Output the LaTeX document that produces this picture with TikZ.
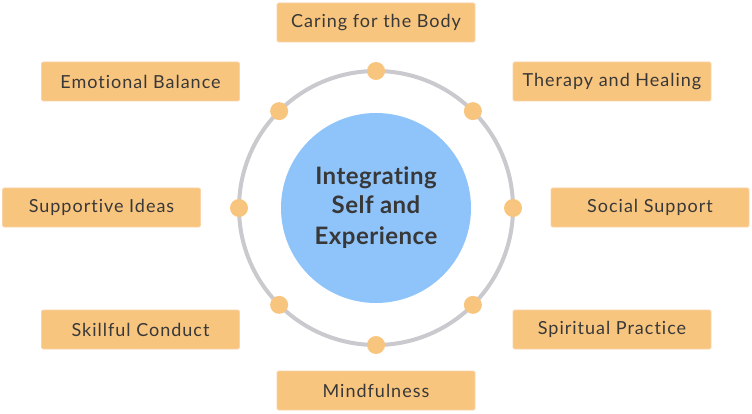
\documentclass[tikz,border=0pt]{standalone}
\usepackage{fontspec}
\setmainfont{Lato}
\newfontfamily\topicfont{Lato}[LetterSpace=5.5, Ligatures=NoCommon]
\newfontfamily\hubfont{Lato}[LetterSpace=2, Ligatures=NoCommon]
\usetikzlibrary{positioning}

\definecolor{boxorange}{HTML}{F8C57F}
\definecolor{boxedge}{HTML}{FAD3A6}
\definecolor{hubblue}{HTML}{8FC4FA}
\definecolor{ringgray}{HTML}{C9C9CE}
\definecolor{textgray}{HTML}{383838}

\begin{document}
\begin{tikzpicture}[x=1pt, y=-1pt, font=\topicfont\fontsize{18}{20}\selectfont, text=textgray,
  topic/.style={draw=boxedge, fill=boxorange, line width=0.8pt, rounded corners=1.5pt,
    minimum width=198pt, minimum height=39pt, inner sep=0pt},
  hub/.style={circle, fill=hubblue, minimum size=190pt, align=center,
    font=\hubfont\fontsize{24}{31}\selectfont\bfseries},
  ring/.style={draw=ringgray, line width=4pt},
  dot/.style={circle, fill=boxorange, minimum size=18pt, inner sep=0pt}]
  \useasboundingbox (0,0) rectangle (752,414);

  % ring and hub
  \draw[ring] (376,208) circle (137);
  \node[hub] (hub) at (376,208) {\raisebox{-2pt}{Integrating}\\Self and\\Experience};
  \foreach \a in {0,45,...,315}
    \node[dot] (dot\a) at ([shift={(\a:137)}]hub.center) {};

  % topics
  \node[topic] (body)    at (376,22.5)   {Caring for the Body};
  \node[topic] (balance) at (140.5,81.5) {Emotional Balance};
  \node[topic] (therapy) at (612,81.5)   {Therapy and Healing};
  \node[topic] (ideas)   at (101.5,207.5){Supportive Ideas};
  \node[topic] (social)  at (650,207.5)  {Social Support};
  \node[topic] (conduct) at (140.5,329.5){Skillful Conduct};
  \node[topic] (spirit)  at (612,329.5)  {Spiritual Practice};
  \node[topic] (mind)    at (376,390.5)  {Mindfulness};
\end{tikzpicture}
\end{document}
